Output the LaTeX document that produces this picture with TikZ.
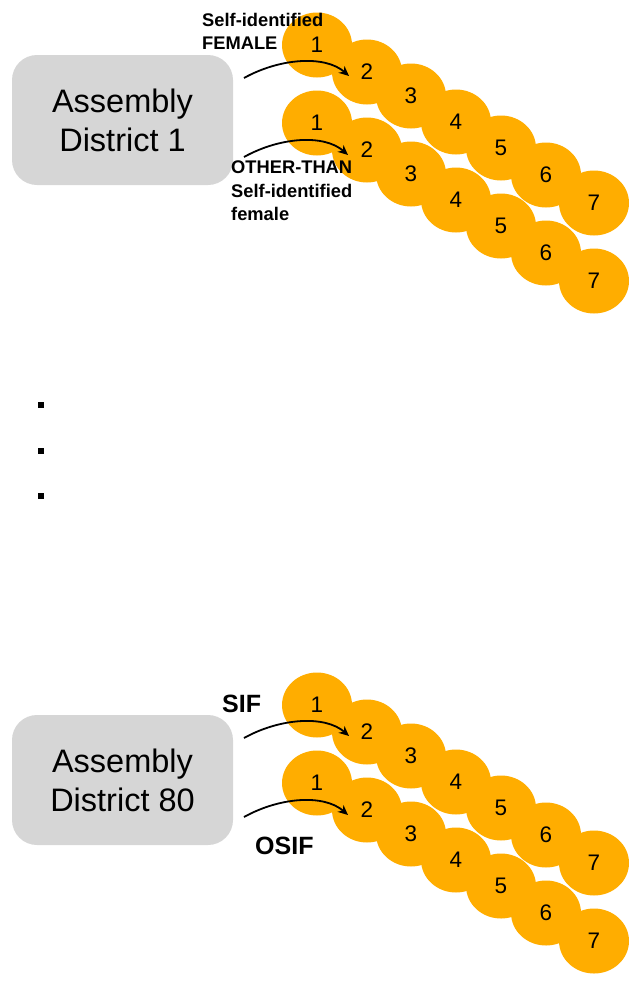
\documentclass[tikz,border=0pt]{standalone}
\usepackage{fontspec}
\setmainfont{Liberation Sans}
\usetikzlibrary{shapes.geometric,arrows.meta}
\definecolor{blobfill}{RGB}{255,173,0}
\definecolor{boxfill}{RGB}{214,214,214}
\begin{document}
\begin{tikzpicture}[x=1pt,y=-1pt,
  blob/.style={ellipse, fill=blobfill, minimum width=70pt, minimum height=65pt, inner sep=0pt, font=\fontsize{22.5}{22.5}\selectfont},
  district/.style={rectangle, rounded corners=25pt, fill=boxfill, minimum width=221pt, minimum height=130pt, align=center, font=\fontsize{32.5}{39}\selectfont},
  lbl/.style={font=\bfseries\fontsize{18.3}{23.5}\selectfont, align=left, inner sep=0pt, anchor=north west},
  biglbl/.style={font=\bfseries\fontsize{25}{28}\selectfont, inner sep=0pt, anchor=north west},
  flow/.style={line width=1.8pt, -{Stealth[length=10pt,width=9pt]}},
  dot/.style={rectangle, fill=black, minimum size=6pt, inner sep=0pt}]
\useasboundingbox (0,0) rectangle (631,991);

% orange ellipses, two rows per district
\foreach \g/\dy in {1/0,2/660}{
  \foreach \r/\ry in {a/0,b/78}{
    \foreach \i/\x/\y in {1/317/45,2/367/72,3/411/96,4/456/122,5/501/148,6/546/175,7/594/203}{
      \node[blob] (e\g\r\i) at (\x,\y+\ry+\dy) {\i};
    }
  }
}

% District 1
\node[district] (d1) at (122.5,120) {Assembly\\District 1};
\coordinate (s1a) at (244,78);
\coordinate (t1a) at (349,76);
\draw[flow] (s1a) .. controls +(36,-20) and +(-24,-21) .. (t1a);
\coordinate (s1b) at (244,157);
\coordinate (t1b) at (348,155);
\draw[flow] (s1b) .. controls +(36,-20) and +(-24,-21) .. (t1b);
\node[lbl] (l1a) at (202,13) {Self-identified\\FEMALE};
\node[lbl] (l1b) at (231,161) {OTHER-THAN\\Self-identified\\female};

% ellipsis bullets
\node[dot] (b1) at (41,405) {};
\node[dot] (b2) at (41,451) {};
\node[dot] (b3) at (41,496) {};

% District 80
\node[district] (d2) at (122.5,780) {Assembly\\District 80};
\coordinate (s2a) at (244,738);
\coordinate (t2a) at (349,736);
\draw[flow] (s2a) .. controls +(36,-20) and +(-24,-21) .. (t2a);
\coordinate (s2b) at (244,817);
\coordinate (t2b) at (348,815);
\draw[flow] (s2b) .. controls +(36,-20) and +(-24,-21) .. (t2b);
\node[biglbl] (l2a) at (222,695) {SIF};
\node[biglbl] (l2b) at (255,837) {OSIF};
\end{tikzpicture}
\end{document}
